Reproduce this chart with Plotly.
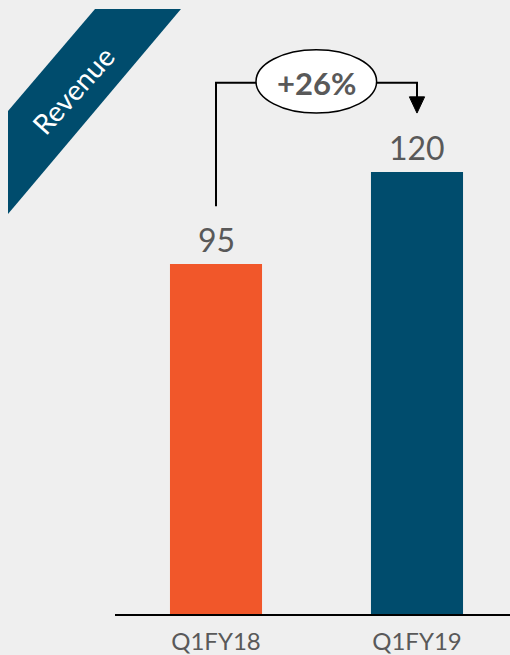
import plotly.graph_objects as go

categories = ["Q1FY18", "Q1FY19"]
values = [95, 120]
growth_label = "+26%"
banner_label = "Revenue"

bar_colors = ["#F1572A", "#004C6D"]
bg = "#EFEFEF"
txt = "#595959"

W, H = 510, 655
PLOT_L, PLOT_R = 115, 510      # plot area in pixels
PLOT_T, PLOT_B = 0, 614
YMAX = 166.7
XR = [-0.5025, 1.4627]

def px2paper_x(px):
    return px / W

def px2paper_y(py):
    return (H - py) / H

xs = list(range(len(categories)))

fig = go.Figure()
fig.add_trace(go.Bar(x=xs, y=values, width=0.458,
                     marker=dict(color=bar_colors, line=dict(width=0)),
                     hoverinfo="skip"))

# value labels
for x, v in zip(xs, values):
    fig.add_annotation(x=x, y=v, xref="x", yref="y", text=str(v), showarrow=False,
                       yanchor="bottom", yshift=3,
                       font=dict(family="Lato", size=32, color=txt))

# connector from first bar to second bar
y_top = 144.2
y_start = 110.7
y_tip = 136.0
ell_x0, ell_x1 = 0.199, 0.799
ell_y0, ell_y1 = 136.0, 153.2
line_style = dict(color="black", width=2)
fig.add_shape(type="path", xref="x", yref="y",
              path=f"M {xs[0]},{y_start} L {xs[0]},{y_top} L {ell_x0},{y_top}",
              line=line_style)
fig.add_shape(type="path", xref="x", yref="y",
              path=f"M {ell_x1},{y_top} L {xs[1]},{y_top} L {xs[1]},{y_tip + 3}",
              line=line_style)
fig.add_shape(type="path", xref="x", yref="y",
              path=f"M {xs[1]-0.038},{y_tip+4.4} L {xs[1]+0.038},{y_tip+4.4} L {xs[1]},{y_tip} Z",
              fillcolor="black", line=dict(color="black", width=1))
fig.add_shape(type="circle", xref="x", yref="y",
              x0=ell_x0, x1=ell_x1, y0=ell_y0, y1=ell_y1,
              fillcolor="white", line=dict(color="black", width=1.5))
fig.add_annotation(x=(xs[0] + xs[1]) / 2, y=y_top, xref="x", yref="y",
                   text=f"<b>{growth_label}</b>", showarrow=False,
                   font=dict(family="Lato", size=31, color=txt))

# banner
pts = [(8, 111), (95, 9), (181, 9), (8, 214)]
path = "M " + " L ".join(f"{px2paper_x(a):.4f},{px2paper_y(b):.4f}" for a, b in pts) + " Z"
fig.add_shape(type="path", xref="paper", yref="paper", path=path,
              fillcolor="#004C6D", line=dict(width=0), layer="above")
fig.add_annotation(x=px2paper_x(73), y=px2paper_y(90), xref="paper", yref="paper",
                   xanchor="center", yanchor="middle",
                   text=banner_label, showarrow=False, textangle=-48,
                   font=dict(family="Lato", size=28, color="white"))

fig.update_layout(
    width=W, height=H,
    margin=dict(l=0, r=0, t=0, b=0, pad=0),
    paper_bgcolor=bg, plot_bgcolor=bg,
    showlegend=False,
    xaxis=dict(range=XR, domain=[PLOT_L / W, PLOT_R / W],
               tickvals=xs, ticktext=categories, showgrid=False,
               zeroline=False, showline=True, linecolor="black", linewidth=1.5,
               ticks="", ticklabelstandoff=5,
               tickfont=dict(family="Lato", size=24, color=txt),
               automargin=False, fixedrange=True),
    yaxis=dict(range=[0, YMAX], domain=[(H - PLOT_B) / H, (H - PLOT_T) / H],
               visible=False, showgrid=False, zeroline=False,
               automargin=False, fixedrange=True),
)

fig.write_html("out.html", config={"displayModeBar": False},
               post_script="document.body.style.margin='0';document.body.style.overflow='hidden';")
